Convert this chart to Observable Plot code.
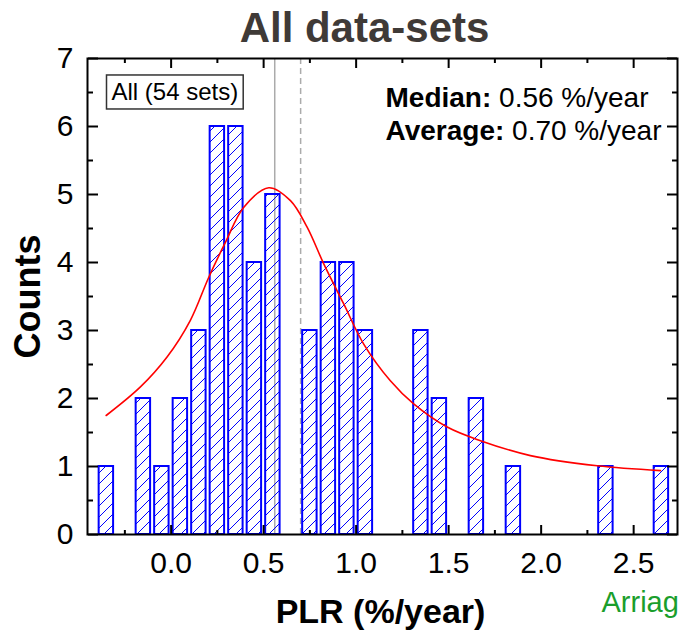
<!DOCTYPE html>
<html><head><meta charset="utf-8">
<script src="https://cdn.jsdelivr.net/npm/d3@7"></script>
<script src="https://cdn.jsdelivr.net/npm/@observablehq/plot@0.6"></script>
<style>html,body{margin:0;padding:0;background:#fff;overflow:hidden}</style>
</head><body><div id="chart"></div>
<script>
// ---- data ----
const titleText = "All data-sets";
const xLabel = "PLR (%/year)";
const yLabel = "Counts";
const boxLabel = "All (54 sets)";
const creditLabel = "Arriag";
const binCenters = [-0.35, -0.15, -0.05, 0.05, 0.15, 0.25, 0.35, 0.45, 0.55, 0.75, 0.85, 0.95, 1.05, 1.35, 1.45, 1.65, 1.85, 2.35, 2.65];
const binCounts  = [1, 2, 1, 2, 3, 6, 6, 4, 5, 3, 4, 4, 3, 3, 2, 2, 1, 1, 1];
const fitX = [-0.351, -0.166, -0.022, 0.104, 0.203, 0.294, 0.392, 0.528, 0.645, 0.735, 0.825, 0.933, 1.041, 1.185, 1.311, 1.492, 1.672, 1.942, 2.303, 2.645];
const fitY = [1.75, 2.17, 2.61, 3.15, 3.78, 4.30, 4.81, 5.10, 4.91, 4.52, 3.98, 3.39, 2.80, 2.26, 1.92, 1.58, 1.38, 1.16, 1.01, 0.94];
const medianValue = 0.56;
const averageValue = 0.70;
const statLabels = ["Median:", "Average:"];
const statValues = ["0.56 %/year", "0.70 %/year"];
const xTicks = [0, 0.5, 1.0, 1.5, 2.0, 2.5];
const xTickLabels = ["0.0", "0.5", "1.0", "1.5", "2.0", "2.5"];
const xMinorTicks = [-0.25, 0.25, 0.75, 1.25, 1.75, 2.25];
const yTicks = [0, 1, 2, 3, 4, 5, 6, 7];
const yMinorTicks = [0.5, 1.5, 2.5, 3.5, 4.5, 5.5, 6.5];

// ---- derived tables ----
const bars = binCenters.map((c, i) => ({c, n: binCounts[i]}));
const fit = fitX.map((x, i) => ({x, y: fitY[i]}));
const statLines = statLabels.map((l, i) => l + " " + statValues[i]);
const halfW = 0.039;

const W = 679, H = 631, ML = 87, MR = 2, MT = 58, MB = 97;
const FW = W - ML - MR, FH = H - MT - MB;
const FONT = "'Liberation Sans', Arial, Helvetica, sans-serif";
const tickLblFmt = d => xTickLabels[xTicks.indexOf(d)];
const statDy = [40, 72.7];
const tk = {fill: "none", stroke: "black", strokeWidth: 2, label: null};

const chart = Plot.plot({
  width: W, height: H,
  marginLeft: ML, marginRight: MR, marginTop: MT, marginBottom: MB,
  style: {fontFamily: FONT, background: "white", color: "black"},
  x: {domain: [-0.452, 2.737]},
  y: {domain: [0, 7]},
  marks: [
    Plot.ruleX([medianValue], {stroke: "#ababab", strokeWidth: 1.5}),
    Plot.ruleX([averageValue], {stroke: "#ababab", strokeWidth: 1.5, strokeDasharray: "6,4"}),
    Plot.rectY(bars, {x1: d => d.c - halfW, x2: d => d.c + halfW, y: "n", fill: "url(#hatch)", stroke: "#0000ff", strokeWidth: 2}),
    Plot.line(fit, {x: "x", y: "y", stroke: "#ff0000", strokeWidth: 1.6, curve: "catmull-rom"}),
    Plot.frame({stroke: "black", strokeWidth: 2}),
    // inward ticks (outward axes shifted across the frame)
    Plot.axisX(xTicks, {anchor: "top", tickSize: 10, dy: FH, ...tk}),
    Plot.axisX(xMinorTicks, {anchor: "top", tickSize: 5, dy: FH, ...tk}),
    Plot.axisX(xTicks, {anchor: "bottom", tickSize: 10, dy: -FH, ...tk}),
    Plot.axisX(xMinorTicks, {anchor: "bottom", tickSize: 5, dy: -FH, ...tk}),
    Plot.axisY(yTicks, {anchor: "right", tickSize: 10, dx: -FW, ...tk}),
    Plot.axisY(yMinorTicks, {anchor: "right", tickSize: 5, dx: -FW, ...tk}),
    Plot.axisY(yTicks, {anchor: "left", tickSize: 10, dx: FW, ...tk}),
    Plot.axisY(yMinorTicks, {anchor: "left", tickSize: 5, dx: FW, ...tk}),
    // tick labels
    Plot.axisX(xTicks, {anchor: "bottom", tickSize: 0, tickPadding: 17, fontSize: 30, tickFormat: tickLblFmt, label: null}),
    Plot.axisY(yTicks, {anchor: "left", tickSize: 0, tickPadding: 14, fontSize: 30, tickFormat: d => String(d), label: null}),
    // axis titles, title, notes
    Plot.text([yLabel], {text: d => d, frameAnchor: "left", textAnchor: "middle", lineAnchor: "middle", dx: -59, rotate: -90, fontSize: 36, fontWeight: "bold", fill: "black"}),
    Plot.text([xLabel], {text: d => d, frameAnchor: "bottom", textAnchor: "middle", lineAnchor: "middle", dx: -2, dy: 78, fontSize: 34, fontWeight: "bold", fill: "black"}),
    Plot.text([titleText], {text: d => d, frameAnchor: "top", textAnchor: "middle", lineAnchor: "middle", dx: -18, dy: -29.5, fontSize: 42, fontWeight: "bold", fill: "#3f3a37"}),
    Plot.text([creditLabel], {text: d => d, frameAnchor: "bottom-right", textAnchor: "start", lineAnchor: "middle", dx: -76, dy: 68.7, fontSize: 29, fill: "#1a9e2c"}),
    Plot.text([boxLabel], {text: d => d, frameAnchor: "top-left", textAnchor: "start", lineAnchor: "middle", dx: 24, dy: 34.3, fontSize: 24, fill: "black"}),
    Plot.text([statLines[0]], {text: d => d, frameAnchor: "top-left", textAnchor: "start", lineAnchor: "middle", dx: 298, dy: statDy[0], fontSize: 28, fill: "black"}),
    Plot.text([statLines[1]], {text: d => d, frameAnchor: "top-left", textAnchor: "start", lineAnchor: "middle", dx: 298, dy: statDy[1], fontSize: 28, fill: "black"})
  ]
});

document.getElementById("chart").appendChild(chart);
const svg = d3.select(chart);

// hatch pattern for the bars
const defs = svg.insert("defs", ":first-child");
const pat = defs.append("pattern").attr("id", "hatch").attr("patternUnits", "userSpaceOnUse")
  .attr("width", 11).attr("height", 11);
pat.append("path").attr("d", "M-1,1 L1,-1 M0,11 L11,0 M10,12 L12,10")
  .attr("stroke", "#0000ff").attr("stroke-width", 1).attr("fill", "none");

// bold label + regular value in the statistics lines
statLines.forEach((line, i) => {
  svg.selectAll("text").filter(function() { return this.textContent === line; }).each(function() {
    const t = d3.select(this);
    t.text(null);
    t.append("tspan").attr("font-weight", "bold").text(statLabels[i]);
    t.append("tspan").text(" " + statValues[i]);
  });
});

// box around the legend label
svg.selectAll("text").filter(function() { return this.textContent === boxLabel; }).each(function() {
  const bb = this.getBBox();
  const cy = bb.y + bb.height / 2;
  d3.select(this.parentNode).insert("rect", ":first-child")
    .attr("transform", this.getAttribute("transform"))
    .attr("x", bb.x - 5).attr("y", cy - 17).attr("width", bb.width + 10).attr("height", 34)
    .attr("fill", "white").attr("stroke", "#333").attr("stroke-width", 1.5);
});
</script>
</body></html>
